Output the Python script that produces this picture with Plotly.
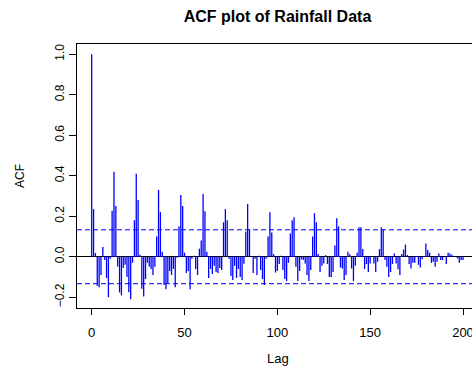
import plotly.graph_objects as go

# ACF values, lags 0..200
lags = list(range(0, 201))
acf = [
    1.0, 0.235, 0.018, -0.143, -0.15, -0.09, 0.048, -0.016, -0.105, -0.2,
    -0.01, 0.227, 0.42, 0.25, -0.048, -0.176, -0.19, -0.056, -0.04, -0.1,
    -0.175, -0.21, -0.03, 0.18, 0.41, 0.28, 0.01, -0.158, -0.196, -0.11,
    -0.03, -0.05, -0.06, -0.09, -0.05, 0.1, 0.33, 0.22, 0.025, -0.14,
    -0.16, -0.13, -0.07, -0.09, -0.06, -0.15, -0.005, 0.15, 0.305, 0.25,
    0.02, -0.08, -0.07, -0.16, -0.01, 0.005, -0.06, -0.09, 0.04, 0.08,
    0.31, 0.225, 0.025, -0.105, -0.06, -0.085, -0.045, -0.075, -0.08, -0.055,
    -0.065, 0.17, 0.235, 0.18, -0.01, -0.095, -0.115, -0.045, -0.105, -0.06,
    -0.1, -0.115, -0.035, 0.125, 0.26, 0.135, 0.0, -0.08, -0.01, -0.09,
    0.005, -0.065, -0.11, -0.14, -0.01, 0.1, 0.22, 0.12, 0.013, -0.078,
    -0.07, -0.036, 0.005, -0.065, -0.11, -0.12, -0.03, 0.115, 0.18, 0.195,
    -0.05, -0.12, -0.07, -0.013, -0.016, -0.033, -0.09, -0.12, -0.065, 0.1,
    0.215, 0.17, 0.013, -0.075, -0.045, -0.033, 0.008, -0.036, -0.1, -0.1,
    -0.075, 0.055, 0.19, 0.15, -0.053, -0.058, -0.115, -0.09, 0.025, 0.012,
    -0.058, -0.12, -0.045, 0.02, 0.145, 0.145, 0.038, -0.06, -0.036, -0.075,
    -0.033, 0.0, -0.033, -0.075, -0.025, 0.038, 0.145, 0.135, -0.016, -0.05,
    -0.1, -0.075, -0.036, 0.016, -0.033, -0.062, -0.09, 0.013, 0.036, 0.06,
    0.008, -0.036, -0.058, -0.03, -0.03, 0.004, -0.04, -0.053, -0.013, 0.0,
    0.065, 0.033, 0.02, -0.03, -0.025, -0.05, -0.025, 0.016, -0.016, -0.016,
    0.0, -0.036, 0.02, 0.016, 0.01, 0.0, 0.003, -0.008, -0.03, -0.016,
    -0.016,
]
ci = 0.133  # 95% significance bound
x_ticks = [0, 50, 100, 150, 200]
y_ticks = [-0.2, 0.0, 0.2, 0.4, 0.6, 0.8, 1.0]

FONT = "Liberation Sans, Arial, Helvetica, sans-serif"

# vertical spikes (type="h") built from the data arrays
spike_x, spike_y = [], []
for k, v in zip(lags, acf):
    spike_x += [k, k, None]
    spike_y += [0, v, None]

fig = go.Figure()
fig.add_trace(go.Scatter(
    x=spike_x, y=spike_y, mode="lines",
    line=dict(color="#0000ff", width=1.3),
    showlegend=False, hoverinfo="skip",
))

for yv in (ci, -ci):
    fig.add_shape(type="line", xref="paper", yref="y", x0=0, x1=1, y0=yv, y1=yv,
                  line=dict(color="#0000ff", width=1, dash="5px,3px"))

fig.update_layout(
    width=472, height=367,
    margin=dict(l=77, r=0, t=44, b=59, pad=0),
    paper_bgcolor="white", plot_bgcolor="white",
    font=dict(family=FONT, color="black", size=12),
    title=dict(text="<b>ACF plot of Rainfall Data</b>", x=277.5 / 472, xref="container",
               xanchor="center", y=1 - 16 / 367, yref="container", yanchor="middle",
               font=dict(family=FONT, size=16, color="black")),
    xaxis=dict(range=[-7.92, 204.85], tickvals=x_ticks, ticktext=[str(v) for v in x_ticks],
               showgrid=False, zeroline=False, showline=True, linecolor="black", linewidth=1,
               mirror=True, ticks="outside", ticklen=6, tickcolor="black", tickwidth=1,
               tickfont=dict(size=13), ticklabelstandoff=6, automargin=False,
               ticklabeloverflow="allow"),
    yaxis=dict(range=[-0.253, 1.050], tickvals=y_ticks, tickformat=".1f",
               showgrid=False, zeroline=True, zerolinecolor="black", zerolinewidth=1,
               showline=True, linecolor="black", linewidth=1, mirror=False,
               ticks="outside", ticklen=7, tickcolor="black", tickwidth=1,
               tickangle=-90, tickfont=dict(size=12), automargin=False),
    annotations=[
        dict(text="Lag", xref="paper", yref="paper", x=(277.5 - 77) / 395, y=-(358 - 308) / 264,
             xanchor="center", yanchor="middle", showarrow=False, font=dict(size=13)),
        dict(text="ACF", xref="paper", yref="paper", x=-(77 - 20) / 395, y=0.5,
             xanchor="center", yanchor="middle", textangle=-90, showarrow=False,
             font=dict(size=12)),
    ],
)

fig.write_html("out.html", config={"displayModeBar": False},
               post_script="document.body.style.margin='0px';")
